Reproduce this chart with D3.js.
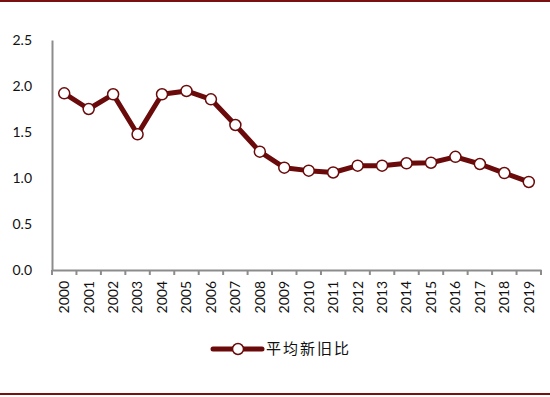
<!DOCTYPE html>
<html>
<head>
<meta charset="utf-8">
<script src="https://cdn.jsdelivr.net/npm/d3@7"></script>
<style>
  body { margin: 0; background: #fff; }
  svg { display: block; }
</style>
</head>
<body>
<svg id="chart" width="550" height="397"></svg>
<script>
// data
const years = ['2000','2001','2002','2003','2004','2005','2006','2007','2008','2009',
               '2010','2011','2012','2013','2014','2015','2016','2017','2018','2019'];
const ratio = [1.92, 1.75, 1.91, 1.475, 1.91, 1.946, 1.855, 1.576, 1.286, 1.112,
               1.08, 1.06, 1.134, 1.134, 1.16, 1.166, 1.23, 1.152, 1.054, 0.957];
const yTicks = [0, 0.5, 1.0, 1.5, 2.0, 2.5];
const seriesName = '平均新旧比';

const svg = d3.select('#chart');
const W = 550, H = 397;
const dark = '#6b0a0a';
const frame = '#7a1010';

const x = d3.scaleBand().domain(years).range([52, 541]);
const y = d3.scaleLinear().domain([0, 2.5]).range([270, 40]);

// top and bottom frame lines
svg.append('line').attr('x1', 0).attr('x2', W).attr('y1', 1).attr('y2', 1)
  .attr('stroke', frame).attr('stroke-width', 2);
svg.append('line').attr('x1', 0).attr('x2', W).attr('y1', 394).attr('y2', 394)
  .attr('stroke', frame).attr('stroke-width', 2);

// y axis
const yAxis = svg.append('g').attr('transform', 'translate(52,0)')
  .call(d3.axisLeft(y).tickValues(yTicks).tickSize(0).tickPadding(20).tickFormat(d3.format('.1f')));
yAxis.select('.domain').attr('stroke', '#8c8c8c').attr('stroke-width', 2);
yAxis.selectAll('text').attr('font-family', 'Lato, "Open Sans", sans-serif')
  .attr('font-size', 14).attr('fill', '#111');

// x axis
const xAxis = svg.append('g').attr('transform', 'translate(0,270)')
  .call(d3.axisBottom(x).tickSize(0).tickPadding(0));
xAxis.select('.domain').attr('stroke', '#8c8c8c').attr('stroke-width', 2);
xAxis.selectAll('.tick line').remove();
// tick marks at band boundaries
const bounds = years.map(d => x(d)).concat([x.range()[1]]);
xAxis.selectAll('.bound').data(bounds).enter().append('line')
  .attr('x1', d => d).attr('x2', d => d).attr('y1', 0).attr('y2', 5)
  .attr('stroke', '#8c8c8c').attr('stroke-width', 2);
xAxis.selectAll('.tick text')
  .attr('font-family', 'Lato, "Open Sans", sans-serif')
  .attr('font-size', 14).attr('fill', '#111')
  .attr('text-anchor', 'end').attr('dy', '0.35em')
  .attr('transform', 'translate(0,11) rotate(-90)');

// line
const cx = d => x(d) + x.bandwidth() / 2;
const line = d3.line().x((d, i) => cx(years[i])).y(d => y(d));
svg.append('path').datum(ratio)
  .attr('fill', 'none').attr('stroke', dark).attr('stroke-width', 5)
  .attr('stroke-linejoin', 'round').attr('d', line);

svg.append('g').selectAll('circle').data(ratio).enter().append('circle')
  .attr('cx', (d, i) => cx(years[i])).attr('cy', d => y(d)).attr('r', 5.5)
  .attr('fill', '#fff').attr('stroke', dark).attr('stroke-width', 1.5);

// legend
const lg = svg.append('g').attr('transform', 'translate(213,349)');
lg.append('line').attr('x1', 0).attr('x2', 49).attr('y1', 0).attr('y2', 0)
  .attr('stroke', dark).attr('stroke-width', 5).attr('stroke-linecap', 'round');
lg.append('circle').attr('cx', 25).attr('cy', 0).attr('r', 5.5)
  .attr('fill', '#fff').attr('stroke', dark).attr('stroke-width', 1.5);
lg.append('text').attr('x', 53).attr('y', 0).attr('dy', '0.35em')
  .attr('font-family', '"Noto Sans CJK SC", sans-serif').attr('font-size', 15)
  .attr('letter-spacing', 2).attr('fill', '#111').text(seriesName);
</script>
</body>
</html>
